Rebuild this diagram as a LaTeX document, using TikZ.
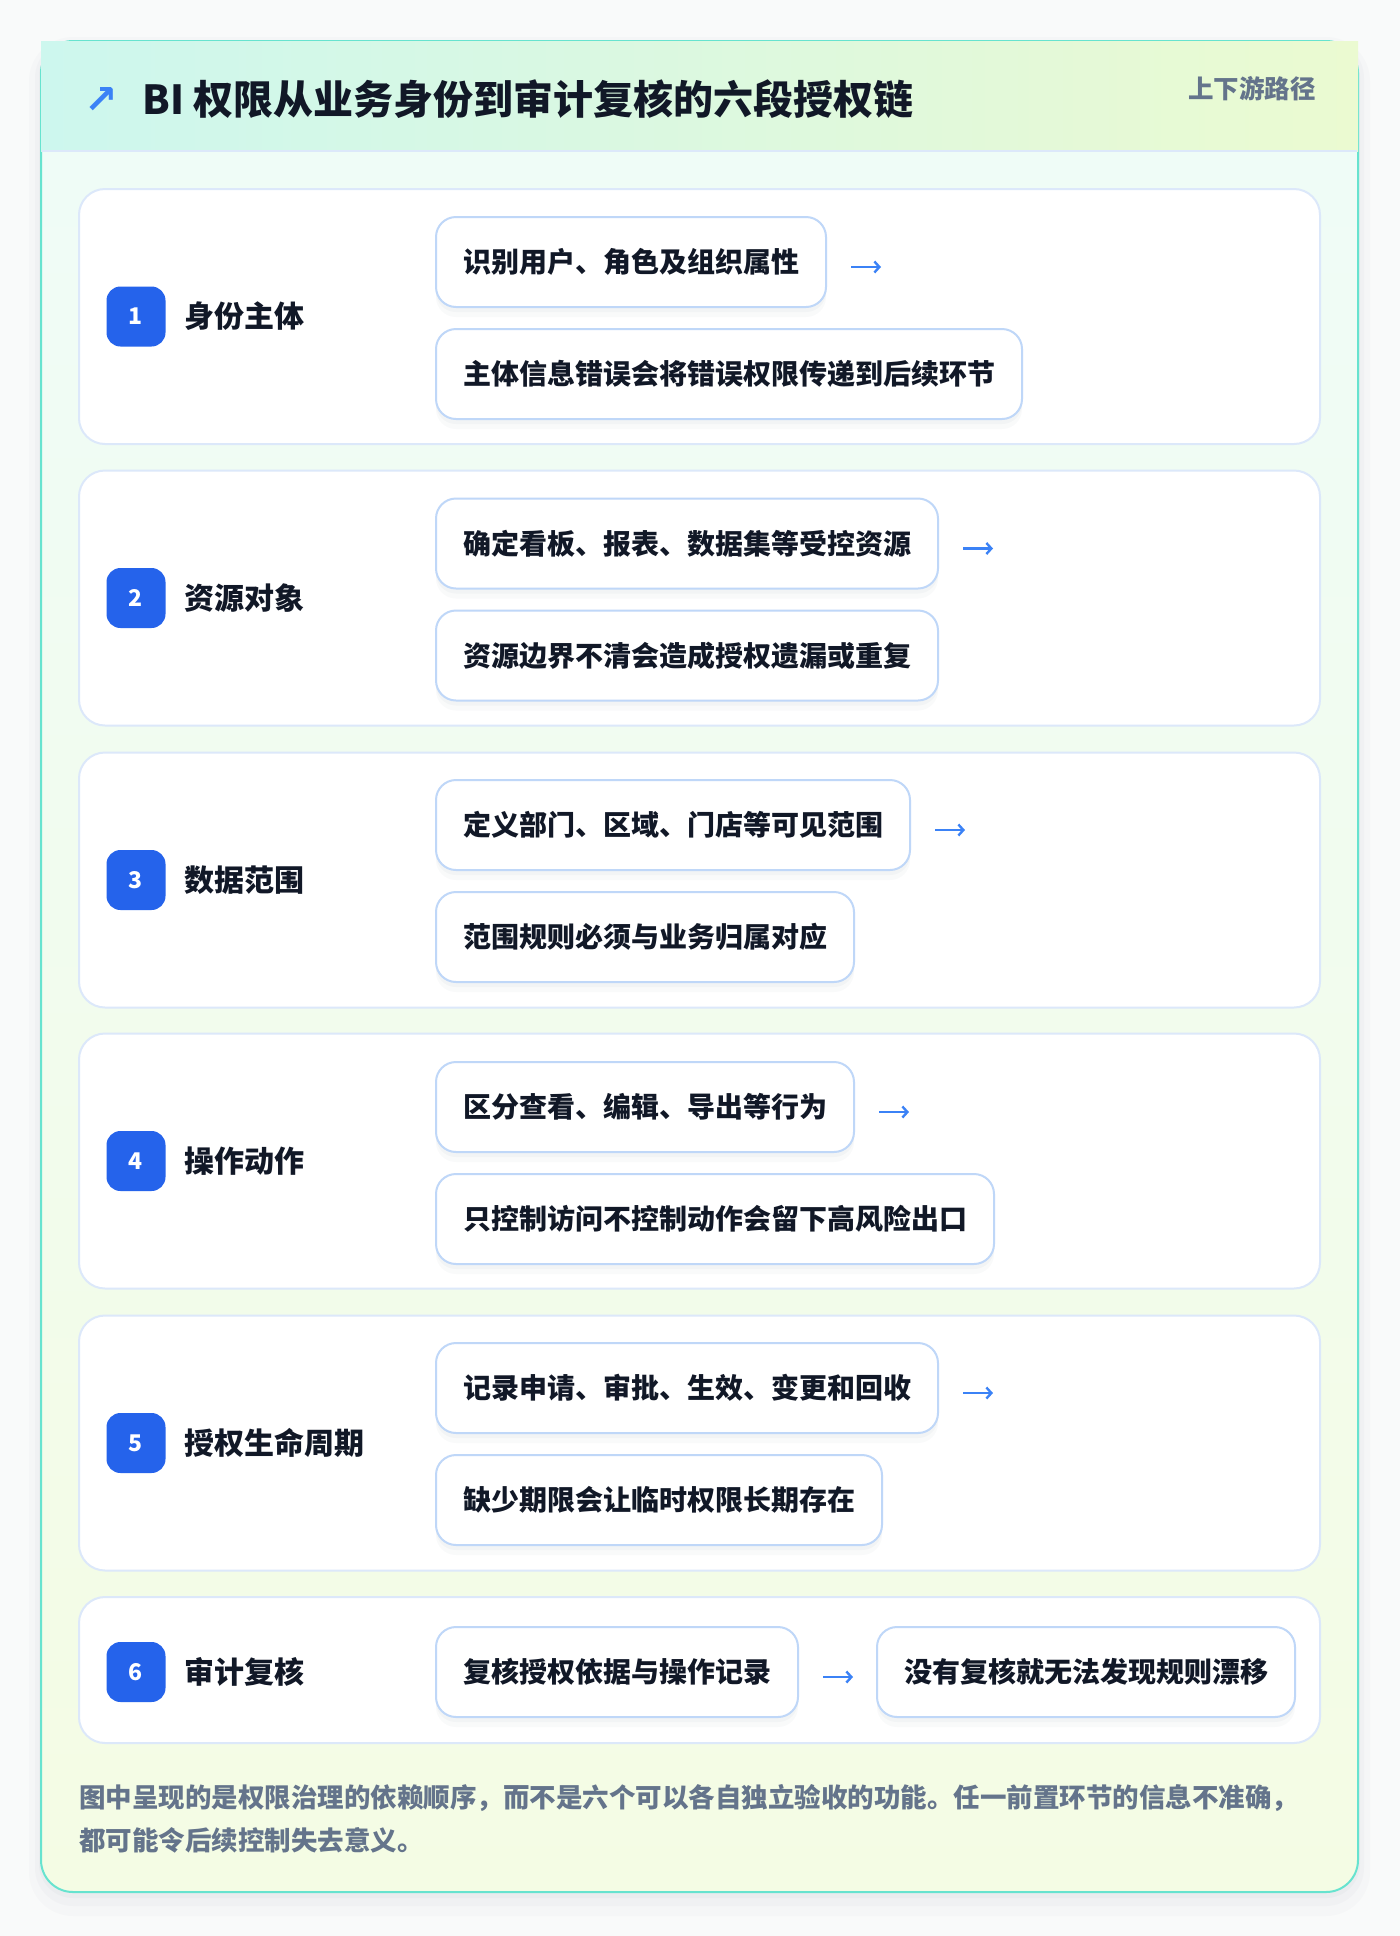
\documentclass[tikz,border=0pt]{standalone}
\usepackage{fontspec}
\setmainfont{Noto Sans CJK SC}
\newfontfamily\symfont{DejaVu Sans}
\usetikzlibrary{positioning,arrows.meta}

\definecolor{cardline}{HTML}{67E3CF}
\definecolor{headleft}{HTML}{CDF7EE}
\definecolor{headright}{HTML}{EBFAD1}
\definecolor{bodytop}{HTML}{EFFCF8}
\definecolor{bodybottom}{HTML}{F4FCE4}
\definecolor{boxline}{HTML}{DCE8FA}
\definecolor{pillline}{HTML}{BFD7F8}
\definecolor{badgeblue}{HTML}{2563EB}
\definecolor{arrowblue}{HTML}{3B82F6}
\definecolor{ink}{HTML}{111827}
\definecolor{muted}{HTML}{64748B}
\definecolor{pagebg}{HTML}{F9FAFA}
\definecolor{shadowgray}{HTML}{64748B}

\begin{document}
\begin{tikzpicture}[x=1pt,y=1pt,
  secbox/.style={draw=boxline,line width=2pt,fill=white,rounded corners=26pt,minimum width=1241pt,inner sep=0pt},
  badge/.style={fill=badgeblue,text=white,rounded corners=14pt,minimum width=59pt,minimum height=60pt,inner sep=0pt,font=\fontsize{23}{23}\selectfont\bfseries},
  steplabel/.style={inner sep=0pt,text=ink,font=\fontsize{30}{30}\selectfont\bfseries},
  softshadow/.style={
    preaction={fill=shadowgray,fill opacity=0.035,draw=none,transform canvas={yshift=-10pt}},
    preaction={fill=shadowgray,fill opacity=0.045,draw=none,transform canvas={yshift=-5pt}}},
  pill/.style={draw=pillline,line width=2pt,fill=white,rounded corners=20pt,minimum height=90pt,inner xsep=27pt,inner ysep=0pt,text=ink,font=\fontsize{28}{28}\selectfont\bfseries,softshadow},
  flow/.style={-{Straight Barb[length=5pt,width=11pt]},arrowblue,line width=2.4pt},
]
  % Page and card
  \fill[pagebg] (0,0) rectangle (1400,-1936);
  \fill[shadowgray,opacity=0.025,rounded corners=44pt] (29,-37) rectangle (1370,-1916);
  \fill[shadowgray,opacity=0.03,rounded corners=38pt] (35,-40) rectangle (1364,-1906);
  \fill[shadowgray,opacity=0.04,rounded corners=34pt] (39,-42) rectangle (1360,-1898);
  \shadedraw[draw=cardline,line width=2pt,top color=bodytop,bottom color=bodybottom,rounded corners=32pt]
    (41,-41) rectangle (1358,-1892);

  % Header
  \shade[left color=headleft,right color=headright] (41,-41) rectangle (1358,-151);
  \draw[boxline,line width=2pt] (42,-151) -- (1357,-151);
  \node[text=arrowblue,inner sep=0pt,font=\fontsize{40}{40}\selectfont\symfont\bfseries] (icon) at (101,-100) {↗};
  \node[anchor=west,inner sep=0pt,text=ink,font=\fontsize{40}{40}\selectfont\bfseries] (title) at (142,-99) {BI 权限从业务身份到审计复核的六段授权链};
  \node[anchor=east,inner sep=0pt,text=muted,font=\fontsize{25.5}{25.5}\selectfont\bfseries] (tag) at (1316,-89) {上下游路径};

  % Step 1
  \node[secbox,minimum height=255pt] (s1) at (699.5,-316.5) {};
  \node[badge] (b1) at (136,-316.5) {1};
  \node[steplabel,right=19pt of b1] (l1) {身份主体};
  \node[pill,anchor=west] (p1a) at (435,-262) {识别用户、角色及组织属性};
  \node[pill,below=20pt of p1a.south west,anchor=north west] (p1b) {主体信息错误会将错误权限传递到后续环节};
  \coordinate (e1) at ([xshift=54pt,yshift=-5pt]p1a.east);
  \draw[flow,shorten <=24pt] ([yshift=-5pt]p1a.east) -- (e1);

  % Step 2
  \node[secbox,minimum height=255pt] (s2) at (699.5,-598) {};
  \node[badge] (b2) at (136,-598) {2};
  \node[steplabel,right=19pt of b2] (l2) {资源对象};
  \node[pill,anchor=west] (p2a) at (435,-543.5) {确定看板、报表、数据集等受控资源};
  \node[pill,below=20pt of p2a.south west,anchor=north west] (p2b) {资源边界不清会造成授权遗漏或重复};
  \coordinate (e2) at ([xshift=54pt,yshift=-5pt]p2a.east);
  \draw[flow,shorten <=24pt] ([yshift=-5pt]p2a.east) -- (e2);

  % Step 3
  \node[secbox,minimum height=255pt] (s3) at (699.5,-880) {};
  \node[badge] (b3) at (136,-880) {3};
  \node[steplabel,right=19pt of b3] (l3) {数据范围};
  \node[pill,anchor=west] (p3a) at (435,-825) {定义部门、区域、门店等可见范围};
  \node[pill,below=20pt of p3a.south west,anchor=north west] (p3b) {范围规则必须与业务归属对应};
  \coordinate (e3) at ([xshift=54pt,yshift=-5pt]p3a.east);
  \draw[flow,shorten <=24pt] ([yshift=-5pt]p3a.east) -- (e3);

  % Step 4
  \node[secbox,minimum height=255pt] (s4) at (699.5,-1161) {};
  \node[badge] (b4) at (136,-1161) {4};
  \node[steplabel,right=19pt of b4] (l4) {操作动作};
  \node[pill,anchor=west] (p4a) at (435,-1107) {区分查看、编辑、导出等行为};
  \node[pill,below=20pt of p4a.south west,anchor=north west] (p4b) {只控制访问不控制动作会留下高风险出口};
  \coordinate (e4) at ([xshift=54pt,yshift=-5pt]p4a.east);
  \draw[flow,shorten <=24pt] ([yshift=-5pt]p4a.east) -- (e4);

  % Step 5
  \node[secbox,minimum height=255pt] (s5) at (699.5,-1443) {};
  \node[badge] (b5) at (136,-1443) {5};
  \node[steplabel,right=19pt of b5] (l5) {授权生命周期};
  \node[pill,anchor=west] (p5a) at (435,-1388) {记录申请、审批、生效、变更和回收};
  \node[pill,below=20pt of p5a.south west,anchor=north west] (p5b) {缺少期限会让临时权限长期存在};
  \coordinate (e5) at ([xshift=54pt,yshift=-5pt]p5a.east);
  \draw[flow,shorten <=24pt] ([yshift=-5pt]p5a.east) -- (e5);

  % Step 6
  \node[secbox,minimum height=146pt] (s6) at (699.5,-1670) {};
  \node[badge] (b6) at (136,-1672) {6};
  \node[steplabel,right=19pt of b6] (l6) {审计复核};
  \node[pill,anchor=west] (p6a) at (435,-1672) {复核授权依据与操作记录};
  \node[pill,right=77pt of p6a] (p6b) {没有复核就无法发现规则漂移};
  \draw[flow,shorten <=24pt,shorten >=23pt] ([yshift=-5pt]p6a.east) -- ([yshift=-5pt]p6b.west);

  % Note
  \node[anchor=north west,inner sep=0pt,align=left,text=muted,font=\fontsize{26.5}{43}\selectfont\bfseries] (note) at (79,-1784)
    {图中呈现的是权限治理的依赖顺序，而不是六个可以各自独立验收的功能。任一前置环节的信息不准确，\\都可能令后续控制失去意义。};
\end{tikzpicture}
\end{document}
